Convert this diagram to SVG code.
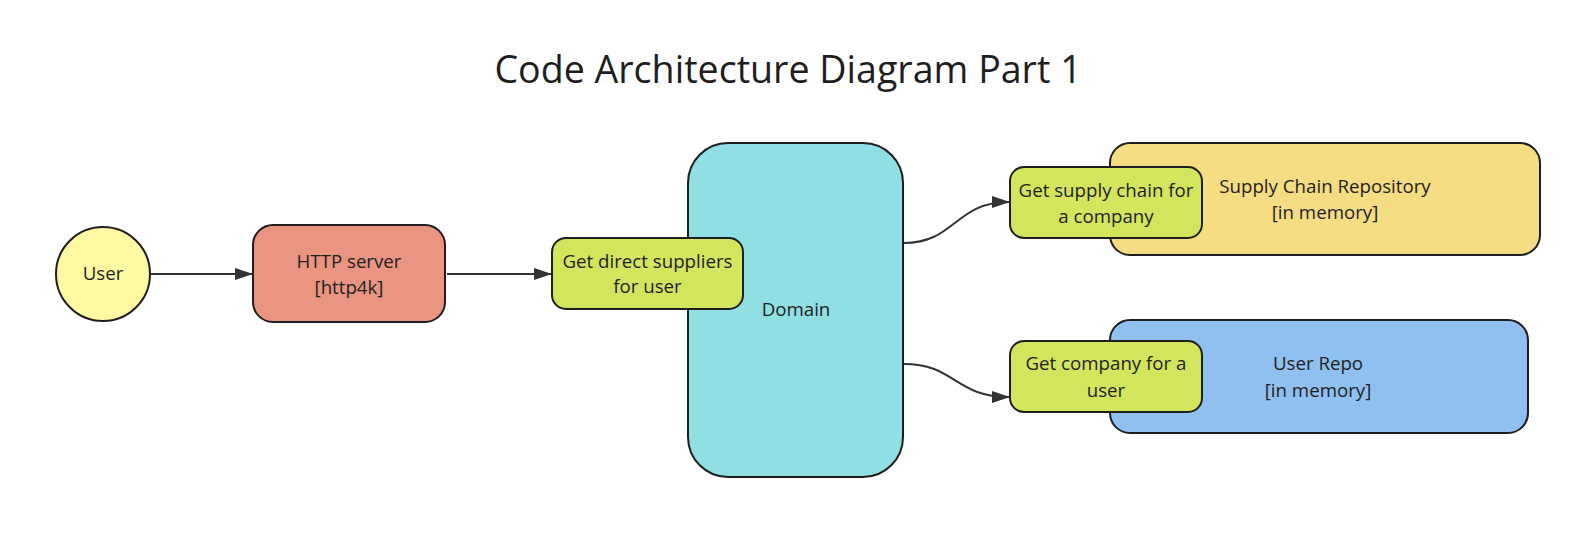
<svg xmlns="http://www.w3.org/2000/svg" width="1586" height="550" viewBox="0 0 1586 550">
<defs>
<style>
.n{stroke:#1e1e1e;stroke-width:2}
.t{font-family:"Open Sans","Noto Sans",sans-serif;font-size:18.7px;fill:#1e1e1e;text-anchor:middle}
.c{fill:none;stroke:#333;stroke-width:2}
</style>
<marker id="ah" viewBox="0 0 18 12" refX="17" refY="6" markerWidth="18" markerHeight="12" markerUnits="userSpaceOnUse" orient="auto">
<path d="M0,0 L18,6 L0,12 Z" fill="#333"/>
</marker>
</defs>
<rect width="1586" height="550" fill="#fff"/>
<text x="788" y="82.5" font-family="'Open Sans','Noto Sans',sans-serif" font-size="37.6" fill="#1e1e1e" text-anchor="middle">Code Architecture Diagram Part 1</text>
<g id="user">
<circle class="n" cx="103" cy="274" r="47" fill="#fff9a3"/>
<text class="t" x="103" y="280">User</text>
</g>
<g id="http">
<rect class="n" x="253" y="225" width="192" height="97" rx="20" fill="#ea9582"/>
<text class="t" x="349" y="268">HTTP server</text>
<text class="t" x="349" y="294">[http4k]</text>
</g>
<g id="domain">
<rect class="n" x="688" y="143" width="215" height="334" rx="40" fill="#90dfe3"/>
<text class="t" x="796" y="316">Domain</text>
</g>
<g id="direct">
<rect class="n" x="552" y="238" width="191" height="71" rx="14" fill="#d3e55c"/>
<text class="t" x="647.5" y="267.5">Get direct suppliers</text>
<text class="t" x="647.5" y="293">for user</text>
</g>
<g id="supplyrepo">
<rect class="n" x="1110" y="143" width="430" height="112" rx="20" fill="#f6dc82"/>
<text class="t" x="1325" y="193">Supply Chain Repository</text>
<text class="t" x="1325" y="218.5">[in memory]</text>
</g>
<g id="supplychain">
<rect class="n" x="1010" y="167" width="192" height="71" rx="14" fill="#d3e55c"/>
<text class="t" x="1106" y="196.5">Get supply chain for</text>
<text class="t" x="1106" y="222.5">a company</text>
</g>
<g id="userrepo">
<rect class="n" x="1110" y="320" width="418" height="113" rx="20" fill="#90c0f0"/>
<text class="t" x="1318" y="370">User Repo</text>
<text class="t" x="1318" y="396.5">[in memory]</text>
</g>
<g id="companyforuser">
<rect class="n" x="1010" y="341" width="192" height="71" rx="14" fill="#d3e55c"/>
<text class="t" x="1106" y="370">Get company for a</text>
<text class="t" x="1106" y="396.5">user</text>
</g>
<g id="connectors">
<path class="c" d="M151,274 L252,274" marker-end="url(#ah)"/>
<path class="c" d="M447,274 L551,274" marker-end="url(#ah)"/>
<path class="c" d="M904,243 C955,243 955,202 1009,202" marker-end="url(#ah)"/>
<path class="c" d="M904,364 C955,364 955,397 1009,397" marker-end="url(#ah)"/>
</g>
</svg>
